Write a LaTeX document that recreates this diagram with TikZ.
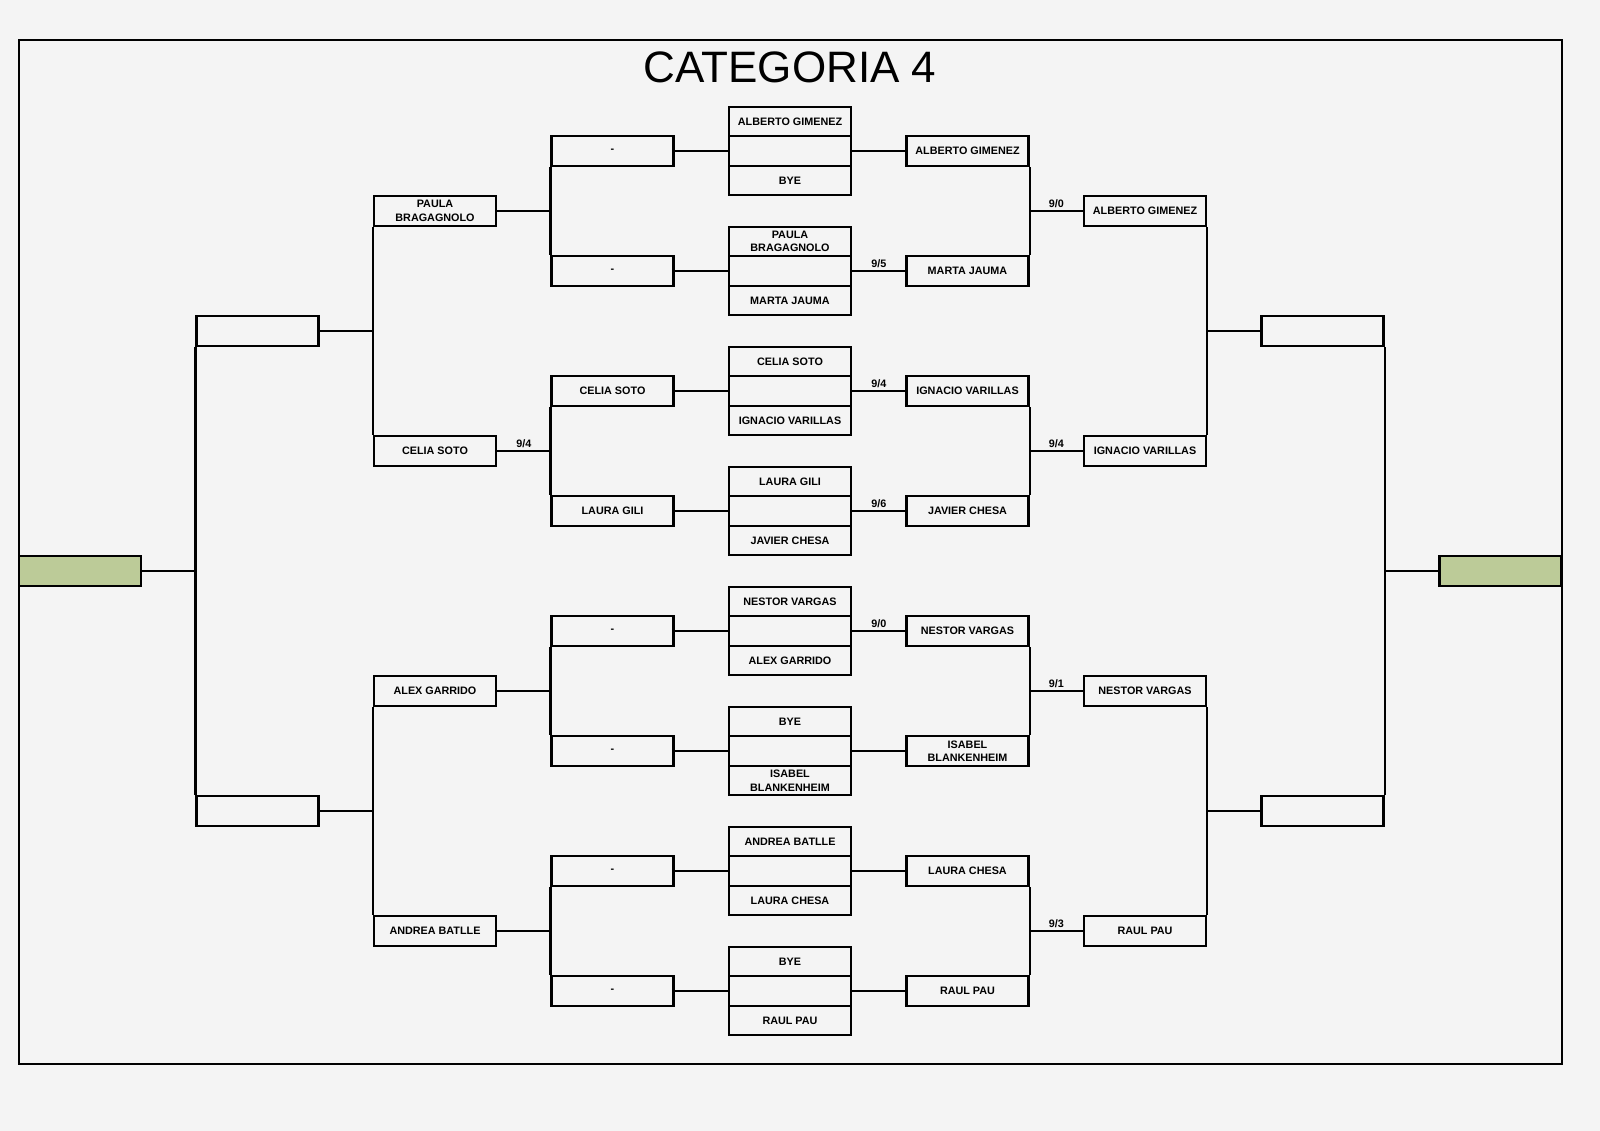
\documentclass[tikz,border=0pt]{standalone}
\usepackage{fontspec}
\setmainfont{Liberation Sans}
\usetikzlibrary{calc}
\definecolor{Page}{HTML}{F4F4F4}
\definecolor{Final}{HTML}{BCCB98}
\newcommand\namefont{\fontsize{10.8}{13.5}\selectfont\bfseries}

\begin{document}
\begin{tikzpicture}[x=1pt,y=-1pt,line width=2.2pt,
  slot/.style={draw,line width=2.2pt,minimum width=122pt,minimum height=30pt,inner sep=0pt,align=center,font=\namefont},
  cell/.style={slot,minimum height=29.5pt},
  final/.style={slot,fill=Final},
  score/.style={above,inner sep=2.5pt,font=\namefont}]
    \fill[Page] (0,0) rectangle (1600,1131);
    \draw[line width=2.2pt] (19,40) rectangle (1562,1064);
    \node[anchor=base,font=\fontsize{44}{50}\selectfont] (title) at (790,83) {CATEGORIA 4};
    % left half
    \node[final] (wl) at (80,571) {};
    \node[slot] (sl1) at (257.5,331) {};
    \node[slot] (sl2) at (257.5,811) {};
    \node[slot] (qf1) at (435,211) {PAULA\\BRAGAGNOLO};
    \node[slot] (qf2) at (435,451) {CELIA SOTO};
    \node[slot] (qf3) at (435,691) {ALEX GARRIDO};
    \node[slot] (qf4) at (435,931) {ANDREA BATLLE};
    \node[slot] (r1) at (612.5,151) {-};
    \node[slot] (r2) at (612.5,271) {-};
    \node[slot] (r3) at (612.5,391) {CELIA SOTO};
    \node[slot] (r4) at (612.5,511) {LAURA GILI};
    \node[slot] (r5) at (612.5,631) {-};
    \node[slot] (r6) at (612.5,751) {-};
    \node[slot] (r7) at (612.5,871) {-};
    \node[slot] (r8) at (612.5,991) {-};
    % matches
    \node[cell] (m1a) at (790,121.5) {ALBERTO GIMENEZ};\node[cell] (m1b) at (790,151) {};\node[cell] (m1c) at (790,180.5) {BYE};
    \node[cell] (m2a) at (790,241.5) {PAULA\\BRAGAGNOLO};\node[cell] (m2b) at (790,271) {};\node[cell] (m2c) at (790,300.5) {MARTA JAUMA};
    \node[cell] (m3a) at (790,361.5) {CELIA SOTO};\node[cell] (m3b) at (790,391) {};\node[cell] (m3c) at (790,420.5) {IGNACIO VARILLAS};
    \node[cell] (m4a) at (790,481.5) {LAURA GILI};\node[cell] (m4b) at (790,511) {};\node[cell] (m4c) at (790,540.5) {JAVIER CHESA};
    \node[cell] (m5a) at (790,601.5) {NESTOR VARGAS};\node[cell] (m5b) at (790,631) {};\node[cell] (m5c) at (790,660.5) {ALEX GARRIDO};
    \node[cell] (m6a) at (790,721.5) {BYE};\node[cell] (m6b) at (790,751) {};\node[cell] (m6c) at (790,780.5) {ISABEL\\BLANKENHEIM};
    \node[cell] (m7a) at (790,841.5) {ANDREA BATLLE};\node[cell] (m7b) at (790,871) {};\node[cell] (m7c) at (790,900.5) {LAURA CHESA};
    \node[cell] (m8a) at (790,961.5) {BYE};\node[cell] (m8b) at (790,991) {};\node[cell] (m8c) at (790,1020.5) {RAUL PAU};
    % right half
    \node[slot] (w1) at (967.5,151) {ALBERTO GIMENEZ};
    \node[slot] (w2) at (967.5,271) {MARTA JAUMA};
    \node[slot] (w3) at (967.5,391) {IGNACIO VARILLAS};
    \node[slot] (w4) at (967.5,511) {JAVIER CHESA};
    \node[slot] (w5) at (967.5,631) {NESTOR VARGAS};
    \node[slot] (w6) at (967.5,751) {ISABEL\\BLANKENHEIM};
    \node[slot] (w7) at (967.5,871) {LAURA CHESA};
    \node[slot] (w8) at (967.5,991) {RAUL PAU};
    \node[slot] (g1) at (1145,211) {ALBERTO GIMENEZ};
    \node[slot] (g2) at (1145,451) {IGNACIO VARILLAS};
    \node[slot] (g3) at (1145,691) {NESTOR VARGAS};
    \node[slot] (g4) at (1145,931) {RAUL PAU};
    \node[slot] (sr1) at (1322.5,331) {};
    \node[slot] (sr2) at (1322.5,811) {};
    \node[final] (wr) at (1500.5,571) {};
    % left brackets
    \draw (wl.east) -- (wl.east -| sl1.west);\draw (sl1.south west) -- (sl2.north west);
    \draw (sl1.east) -- (sl1.east -| qf1.west);\draw (qf1.south west) -- (qf2.north west);
    \draw (sl2.east) -- (sl2.east -| qf3.west);\draw (qf3.south west) -- (qf4.north west);
    \draw (qf1.east) -- (qf1.east -| r1.west);\draw (r1.south west) -- (r2.north west);
    \draw (qf2.east) -- node[score] {9/4} (qf2.east -| r3.west);\draw (r3.south west) -- (r4.north west);
    \draw (qf3.east) -- (qf3.east -| r5.west);\draw (r5.south west) -- (r6.north west);
    \draw (qf4.east) -- (qf4.east -| r7.west);\draw (r7.south west) -- (r8.north west);
    \draw (r1.east) -- (m1b.west);\draw (r2.east) -- (m2b.west);
    \draw (r3.east) -- (m3b.west);\draw (r4.east) -- (m4b.west);
    \draw (r5.east) -- (m5b.west);\draw (r6.east) -- (m6b.west);
    \draw (r7.east) -- (m7b.west);\draw (r8.east) -- (m8b.west);
    % right brackets
    \draw (m1b.east) -- (w1.west);\draw (m2b.east) -- node[score] {9/5} (w2.west);
    \draw (m3b.east) -- node[score] {9/4} (w3.west);\draw (m4b.east) -- node[score] {9/6} (w4.west);
    \draw (m5b.east) -- node[score] {9/0} (w5.west);\draw (m6b.east) -- (w6.west);
    \draw (m7b.east) -- (w7.west);\draw (m8b.east) -- (w8.west);
    \draw (w1.south east) -- (w2.north east);\draw (w1.east |- g1.west) -- node[score] {9/0} (g1.west);
    \draw (w3.south east) -- (w4.north east);\draw (w3.east |- g2.west) -- node[score] {9/4} (g2.west);
    \draw (w5.south east) -- (w6.north east);\draw (w5.east |- g3.west) -- node[score] {9/1} (g3.west);
    \draw (w7.south east) -- (w8.north east);\draw (w7.east |- g4.west) -- node[score] {9/3} (g4.west);
    \draw (g1.south east) -- (g2.north east);\draw (g1.east |- sr1.west) -- (sr1.west);
    \draw (g3.south east) -- (g4.north east);\draw (g3.east |- sr2.west) -- (sr2.west);
    \draw (sr1.south east) -- (sr2.north east);\draw (sr1.east |- wr.west) -- (wr.west);
  \end{tikzpicture}
\end{document}
